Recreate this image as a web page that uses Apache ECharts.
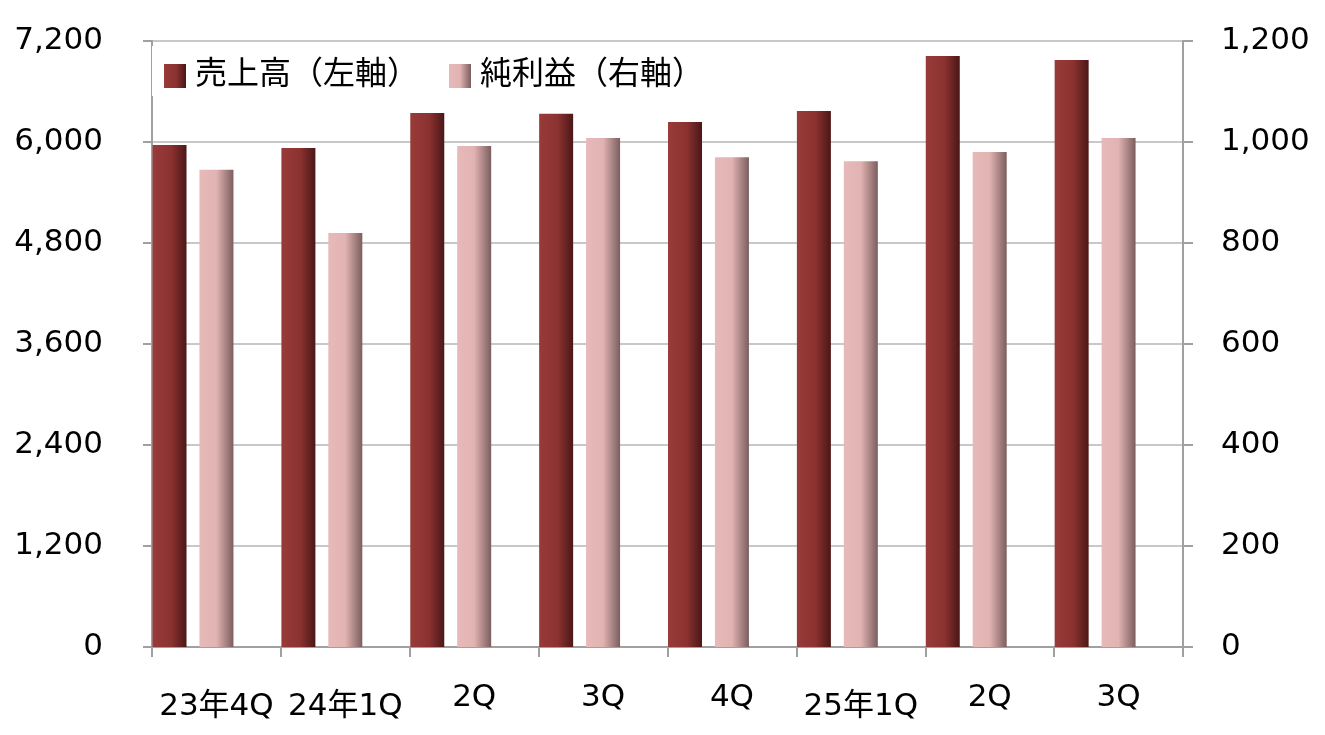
<!DOCTYPE html>
<html>
<head>
<meta charset="utf-8">
<script src="https://cdn.jsdelivr.net/npm/echarts@6/dist/echarts.min.js"></script>
<style>
html,body{margin:0;padding:0;background:#fff;}
#chart{width:1325px;height:735px;}
</style>
</head>
<body>
<div id="chart"></div>
<script>
const categories = ['23年4Q', '24年1Q', '2Q', '3Q', '4Q', '25年1Q', '2Q', '3Q'];
const revenue = [5965, 5930, 6345, 6335, 6238, 6368, 7022, 6974];
const netIncome = [945, 820, 992, 1008, 970, 962, 980, 1008];
const leftTicks = [0, 1200, 2400, 3600, 4800, 6000, 7200];
const rightTicks = [0, 200, 400, 600, 800, 1000, 1200];
const seriesNames = ['売上高（左軸）', '純利益（右軸）'];

const FONT = "'DejaVu Sans', 'Noto Sans CJK JP', sans-serif";
const chart = echarts.init(document.getElementById('chart'), null, {renderer: 'canvas'});
const fmt = v => Number(v).toLocaleString('en-US');

const revColor = new echarts.graphic.LinearGradient(0, 0, 1, 0, [
  {offset: 0, color: '#983b39'},
  {offset: 0.55, color: '#8b3230'},
  {offset: 1, color: '#4b1717'}
]);
const niColor = new echarts.graphic.LinearGradient(0, 0, 1, 0, [
  {offset: 0, color: '#e7bab9'},
  {offset: 0.5, color: '#e1b3b2'},
  {offset: 1, color: '#7b5e5e'}
]);

const xData = categories.map(c => ({
  value: c,
  textStyle: c.indexOf('年') >= 0 ? {padding: [9, 0, 0, 0]} : {padding: [0, 0, 0, 0]}
}));

chart.setOption({
  backgroundColor: '#ffffff',
  animation: false,
  textStyle: {fontFamily: FONT},
  legend: {
    data: seriesNames,
    left: 152,
    top: 46,
    padding: [14, 8, 4, 12],
    backgroundColor: '#ffffff',
    itemWidth: 22,
    itemHeight: 24,
    itemGap: 30,
    icon: 'rect',
    textStyle: {fontFamily: FONT, fontSize: 32, color: '#000', padding: [0, 0, 0, 4]}
  },
  grid: {left: 152, right: 142, top: 41, bottom: 88, containLabel: false},
  xAxis: {
    type: 'category',
    data: xData,
    boundaryGap: true,
    axisLine: {lineStyle: {color: '#a0a0a0', width: 2}},
    axisTick: {show: true, interval: 0, length: 10, lineStyle: {color: '#a0a0a0', width: 2}},
    axisLabel: {interval: 0, margin: 35, fontSize: 31, color: '#000', fontFamily: FONT}
  },
  yAxis: [
    {
      type: 'value',
      min: leftTicks[0],
      max: leftTicks[leftTicks.length - 1],
      interval: leftTicks[1] - leftTicks[0],
      axisLine: {show: true, lineStyle: {color: '#a0a0a0', width: 2}},
      axisTick: {show: true, length: 9, lineStyle: {color: '#a0a0a0', width: 2}},
      axisLabel: {margin: 49, fontSize: 31, color: '#000', fontFamily: FONT, formatter: fmt},
      splitLine: {show: true, lineStyle: {color: '#c8c8c8', width: 2}}
    },
    {
      type: 'value',
      min: rightTicks[0],
      max: rightTicks[rightTicks.length - 1],
      interval: rightTicks[1] - rightTicks[0],
      position: 'right',
      axisLine: {show: true, lineStyle: {color: '#a0a0a0', width: 2}},
      axisTick: {show: true, length: 10, lineStyle: {color: '#a0a0a0', width: 2}},
      axisLabel: {margin: 38, fontSize: 31, color: '#000', fontFamily: FONT, formatter: fmt},
      splitLine: {show: false}
    }
  ],
  series: [
    {
      name: seriesNames[0],
      type: 'bar',
      yAxisIndex: 0,
      data: revenue,
      barWidth: 34,
      barGap: '38%',
      itemStyle: {color: revColor}
    },
    {
      name: seriesNames[1],
      type: 'bar',
      yAxisIndex: 1,
      data: netIncome,
      barWidth: 34,
      barGap: '38%',
      itemStyle: {color: niColor}
    },
    {
      name: 'spacer',
      type: 'bar',
      yAxisIndex: 0,
      data: categories.map(() => null),
      barWidth: 34,
      barGap: '38%',
      silent: true,
      itemStyle: {color: 'rgba(0,0,0,0)'}
    }
  ]
});
</script>
</body>
</html>
